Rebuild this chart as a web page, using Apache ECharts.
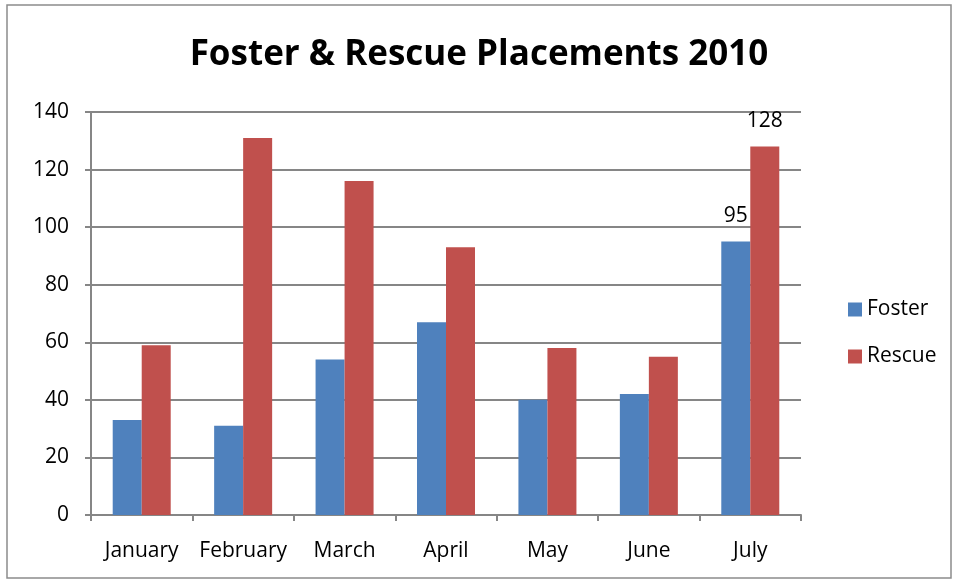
<!DOCTYPE html>
<html><head><meta charset="utf-8">
<script src="https://cdn.jsdelivr.net/npm/echarts@6/dist/echarts.min.js"></script>
<style>html,body{margin:0;padding:0;background:#fff}#c{width:958px;height:581px}</style>
</head><body><div id="c"></div>
<script>
const categories = ['January','February','March','April','May','June','July'];
const fosterValues = [33, 31, 54, 67, 40, 42, 95];
const rescueValues = [59, 131, 116, 93, 58, 55, 128];
const labeledIndex = 6;
const yTicks = [0, 20, 40, 60, 80, 100, 120, 140];

const FONT = '"Open Sans", "Liberation Sans", sans-serif';
function withLabels(vals){
  return vals.map((v,i)=> i===labeledIndex ? {value:v, label:{show:true}} : v);
}
const chart = echarts.init(document.getElementById('c'));
chart.setOption({
  animation:false,
  textStyle:{fontFamily:FONT},
  title:{text:'Foster & Rescue Placements 2010', left:'center', top:33,
    textStyle:{fontFamily:FONT, fontSize:35, fontWeight:'bold', color:'#000'}},
  graphic:[{type:'rect', shape:{x:7, y:5, width:944, height:573},
    style:{fill:'none', stroke:'#8c8c8c', lineWidth:1.5}, silent:true}],
  legend:{orient:'vertical', left:843, top:294, itemWidth:14, itemHeight:14, itemGap:26,
    icon:'rect', textStyle:{fontFamily:FONT, fontSize:21, color:'#000'},
    data:['Foster','Rescue']},
  grid:{left:91, right:157, top:112, bottom:66},
  xAxis:{type:'category', data:categories, boundaryGap:true,
    axisLine:{lineStyle:{color:'#868686', width:2}},
    axisTick:{show:true, length:6, lineStyle:{color:'#868686', width:2}},
    axisLabel:{fontFamily:FONT, fontSize:21, color:'#000', margin:26, interval:0}},
  yAxis:{type:'value', min:yTicks[0], max:yTicks[yTicks.length-1], interval:20,
    axisLine:{show:true, lineStyle:{color:'#868686', width:2}},
    axisTick:{show:true, length:6, lineStyle:{color:'#868686', width:2}},
    splitLine:{lineStyle:{color:'#868686', width:2}},
    axisLabel:{fontFamily:FONT, fontSize:21, color:'#000', margin:22}},
  series:[
    {name:'Foster', type:'bar', data:withLabels(fosterValues), barWidth:29, barGap:'0%',
     itemStyle:{color:'#4F81BD'},
     label:{show:false, position:'top', fontFamily:FONT, fontSize:21, color:'#000', distance:15}},
    {name:'Rescue', type:'bar', data:withLabels(rescueValues), barWidth:29, barGap:'0%',
     itemStyle:{color:'#C0504D'},
     label:{show:false, position:'top', fontFamily:FONT, fontSize:21, color:'#000', distance:15}}
  ]
});
</script></body></html>
